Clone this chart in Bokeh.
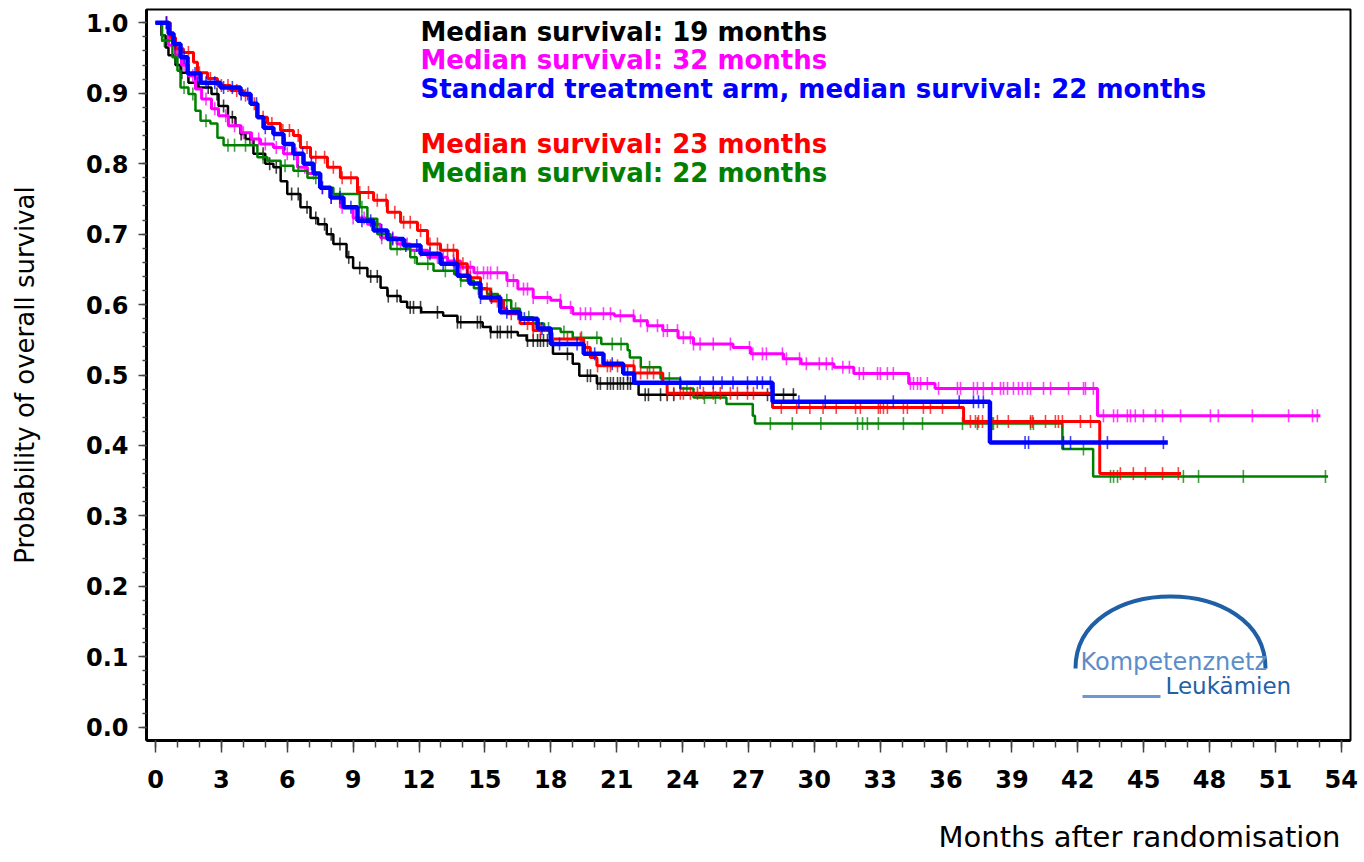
import numpy as np
from bokeh.plotting import figure
from bokeh.models import Range1d, FixedTicker, Title, PrintfTickFormatter
from bokeh.core.properties import value
from bokeh.embed import file_html
from bokeh.resources import INLINE

# ---------------- data ----------------
black_t = [0, 0.27, 0.46, 0.59, 0.91, 1.14, 1.5, 1.96, 2.55, 2.87, 3.3, 3.64, 3.87, 4.1, 4.46,
           5.0, 5.37, 5.7, 6.0, 6.6, 7.06, 7.4, 7.8, 8.1, 8.7, 9.0, 9.65, 10.25, 10.56, 11.16,
           11.46, 12.1, 13.1, 13.75, 14.9, 15.26, 16.5, 16.9, 18.1, 19.0, 19.3, 20.1, 22.0]
black_s = [1.0, 0.982, 0.965, 0.954, 0.94, 0.929, 0.915, 0.908, 0.899, 0.882, 0.866, 0.854, 0.842,
           0.835, 0.814, 0.80, 0.795, 0.775, 0.757, 0.738, 0.723, 0.714, 0.700, 0.686, 0.667, 0.652,
           0.640, 0.624, 0.612, 0.604, 0.596, 0.589, 0.584, 0.575, 0.568, 0.561, 0.556, 0.549, 0.530,
           0.516, 0.499, 0.488, 0.472]
black_end = 29.2
black_cens = [0.3, 1.2, 1.9, 2.4, 2.8, 3.1, 3.5, 3.9, 4.3, 4.9, 5.2, 5.5, 6.2, 6.5, 6.9, 7.3, 7.7,
              8.0, 8.4, 8.8, 9.3, 9.8, 10.1, 10.6, 11.0, 11.6, 11.75, 12.07, 12.84, 13.75, 13.9,
              14.66, 14.8, 15.26, 15.57, 15.7, 16.03, 16.2, 16.94, 17.2, 17.4, 17.53, 17.67, 17.85,
              18.76, 19.67, 19.81, 20.13, 20.26, 20.58, 20.72, 20.85, 21.04, 21.17, 21.31, 21.5,
              21.63, 22.3, 22.45, 23.0, 23.3, 23.6, 27.87, 28.14, 28.6, 29.05]

magenta_t = [0, 0.59, 0.9, 1.18, 1.5, 1.82, 2.1, 2.55, 2.87, 3.32, 3.9, 4.37, 4.78, 5.37, 5.83,
             6.47, 6.92, 7.5, 7.97, 8.42, 9.0, 9.65, 10.25, 11.0, 11.6, 12.4, 13.3, 13.9, 14.5,
             16.0, 16.5, 17.2, 18.0, 18.45, 19.0, 20.9, 21.8, 22.4, 23.1, 23.8, 24.5, 26.3, 27.1,
             28.6, 29.4, 30.9, 31.8, 34.3, 35.5, 42.9]
magenta_s = [1.0, 0.968, 0.954, 0.94, 0.925, 0.906, 0.892, 0.878, 0.868, 0.854, 0.844, 0.835, 0.828,
             0.823, 0.814, 0.795, 0.786, 0.766, 0.752, 0.738, 0.723, 0.714, 0.695, 0.686, 0.677,
             0.667, 0.662, 0.653, 0.645, 0.634, 0.622, 0.610, 0.606, 0.596, 0.587, 0.584, 0.577,
             0.570, 0.563, 0.553, 0.544, 0.539, 0.530, 0.523, 0.516, 0.511, 0.502, 0.488, 0.481,
             0.442]
magenta_end = 53.05
magenta_cens = [0.5, 1.3, 1.7, 2.3, 2.7, 3.2, 3.6, 4.0, 4.4, 4.7, 5.0, 5.5, 6.0, 6.4, 6.8, 7.2, 7.6,
                8.0, 8.5, 9.0, 9.5, 9.9, 10.3, 10.8, 11.16, 11.46, 12.07, 12.84, 13.1, 13.57, 13.9,
                14.34, 14.66, 14.94, 15.12, 15.26, 15.57, 16.03, 16.3, 16.76, 16.94, 17.2, 17.85,
                18.44, 18.9, 19.35, 19.58, 19.81, 20.4, 20.72, 21.17, 21.77, 22.09, 22.4, 22.86,
                23.13, 23.31, 23.77, 24.04, 24.36, 24.5, 24.8, 25.4, 26.18, 27.05, 27.2, 27.64,
                27.82, 28.55, 28.73, 29.33, 29.64, 30.23, 30.55, 30.82, 31.3, 31.6, 32.05, 32.24,
                32.88, 33.01, 33.33, 33.6, 34.38, 34.52, 34.7, 34.84, 35.15, 35.66, 36.52, 36.66,
                37.25, 37.43, 37.7, 38.1, 38.48, 38.62, 38.8, 39.07, 39.3, 39.48, 39.71, 39.85,
                40.44, 40.76, 41.58, 42.26, 42.35, 42.71, 43.17, 43.63, 43.81, 44.26, 44.4, 44.62,
                44.99, 45.54, 45.86, 46.68, 48.04, 48.4, 49.95, 51.6, 52.69, 52.91]

blue_t = [0, 0.6, 0.82, 1.14, 1.46, 2.05, 2.96, 3.87, 4.33, 4.64, 4.92, 5.37, 5.83, 6.28, 6.74,
          7.2, 7.5, 7.97, 8.56, 9.2, 9.93, 10.56, 11.3, 12.07, 12.98, 13.75, 14.3, 14.8, 15.7,
          16.6, 17.4, 18.0, 19.5, 20.4, 21.3, 21.8, 28.1, 38.0]
blue_s = [1.0, 0.985, 0.970, 0.951, 0.928, 0.915, 0.908, 0.899, 0.885, 0.866, 0.851, 0.842, 0.828,
          0.814, 0.800, 0.786, 0.766, 0.752, 0.738, 0.719, 0.705, 0.693, 0.684, 0.672, 0.658,
          0.641, 0.630, 0.610, 0.589, 0.580, 0.566, 0.544, 0.530, 0.516, 0.502, 0.489, 0.462,
          0.404]
blue_end = 46.1
blue_cens = [0.5, 0.9, 1.3, 1.8, 2.3, 2.7, 3.1, 3.5, 3.9, 4.2, 4.6, 5.0, 5.4, 5.9, 6.3, 6.7, 7.1,
             7.6, 8.0, 8.4, 8.9, 9.4, 9.8, 10.3, 10.8, 11.4, 11.9, 12.5, 13.1, 13.6, 14.2, 14.8,
             15.3, 16.0, 16.8, 17.6, 18.4, 19.2, 20.0, 20.8, 21.5, 23.9, 24.8, 25.4, 25.8, 26.3,
             26.96, 27.4, 27.64, 28.0, 29.3, 30.5, 33.6, 36.6, 37.25, 37.48, 37.7, 39.6, 39.76,
             41.35, 41.67, 43.35, 45.9]

red_t = [0, 0.68, 0.91, 1.27, 1.73, 1.91, 2.37, 2.82, 3.42, 4.0, 4.33, 4.64, 5.1, 5.69, 6.28,
         6.6, 7.06, 7.83, 8.42, 9.2, 9.93, 10.56, 11.16, 11.93, 12.39, 12.98, 13.75, 14.2, 14.8,
         15.26, 15.85, 16.0, 16.6, 17.2, 18.0, 19.5, 19.8, 20.1, 21.8, 23.1, 23.3, 28.1, 36.8, 43.0]
red_s = [1.0, 0.979, 0.963, 0.958, 0.944, 0.929, 0.921, 0.911, 0.904, 0.897, 0.885, 0.866, 0.857,
         0.847, 0.840, 0.823, 0.809, 0.795, 0.780, 0.759, 0.748, 0.731, 0.717, 0.705, 0.686,
         0.677, 0.658, 0.638, 0.622, 0.605, 0.594, 0.587, 0.573, 0.563, 0.551, 0.539, 0.525,
         0.513, 0.503, 0.489, 0.474, 0.454, 0.434, 0.360]
red_end = 46.7
red_cens = [0.5, 1.0, 1.5, 2.0, 2.5, 3.0, 3.3, 3.7, 4.1, 4.5, 4.9, 5.3, 5.8, 6.1, 6.5, 6.9, 7.3,
            7.7, 8.1, 8.5, 8.9, 9.3, 9.7, 10.1, 10.5, 10.9, 11.3, 11.6, 12.07, 12.5, 12.84, 13.3,
            13.57, 14.0, 14.34, 15.1, 15.57, 15.7, 16.2, 16.5, 16.94, 17.2, 17.53, 18.1, 18.76,
            19.35, 19.67, 20.13, 20.58, 20.72, 21.04, 21.77, 22.09, 22.4, 22.68, 23.31, 23.6,
            23.9, 24.04, 24.36, 24.68, 24.95, 25.4, 25.72, 26.18, 26.5, 26.96, 27.23, 28.5, 29.2,
            29.8, 30.4, 31.0, 31.88, 32.1, 32.92, 33.01, 33.15, 33.33, 34.06, 34.24, 34.97, 35.29,
            35.84, 37.11, 37.34, 37.48, 37.66, 38.34, 38.84, 39.85, 39.94, 40.53, 40.98, 41.12,
            41.3, 42.12, 42.58, 43.94, 44.53, 45.08, 45.86, 46.58]

green_t = [0, 0.3, 0.77, 1.0, 1.14, 1.5, 1.82, 2.05, 2.5, 2.82, 3.1, 4.64, 5.1, 5.7, 6.28, 6.92,
           7.5, 8.1, 9.3, 9.65, 10.1, 10.7, 11.6, 11.9, 12.66, 13.6, 13.9, 14.5, 15.1, 15.6, 16.2,
           16.6, 17.2, 17.7, 18.45, 19.0, 20.3, 21.5, 21.6, 22.1, 23.0, 23.9, 24.5, 26.0, 27.2,
           27.3, 41.3, 42.7]
green_s = [1.0, 0.975, 0.951, 0.932, 0.908, 0.899, 0.875, 0.861, 0.857, 0.837, 0.826, 0.809,
           0.804, 0.797, 0.790, 0.780, 0.766, 0.757, 0.738, 0.722, 0.700, 0.679, 0.667, 0.658,
           0.648, 0.643, 0.634, 0.623, 0.615, 0.606, 0.594, 0.582, 0.573, 0.566, 0.561, 0.553,
           0.544, 0.535, 0.525, 0.511, 0.495, 0.481, 0.468, 0.459, 0.442, 0.431, 0.395, 0.356]
green_end = 53.4
green_cens = [0.4, 0.9, 1.3, 1.7, 2.3, 3.3, 3.6, 4.1, 4.9, 5.9, 6.5, 7.3, 8.4, 9.4, 10.3, 11.0,
              11.8, 12.4, 13.2, 13.9, 14.7, 15.3, 16.0, 16.4, 17.0, 17.9, 18.6, 19.4, 20.1, 20.8,
              21.2, 22.5, 23.4, 24.2, 25.0, 25.5, 28.0, 29.0, 30.3, 31.97, 32.2, 32.42, 32.92,
              34.06, 34.93, 36.75, 37.43, 38.11, 38.16, 39.85, 39.98, 42.26, 43.49, 43.63, 43.81,
              46.81, 47.5, 49.54, 53.28]

legend_texts = ["Median survival: 19 months",
                "Median survival: 32 months",
                "Standard treatment arm, median survival: 22 months",
                "Median survival: 23 months",
                "Median survival: 22 months"]
legend_colors = ["#000000", "#ff00ff", "#0000ff", "#ff0000", "#008000"]

x_ticks = list(range(0, 55, 3))
x_minor = list(range(0, 55, 1))
y_ticks = [round(0.1 * i, 1) for i in range(11)]
y_minor = [round(0.02 * i, 2) for i in range(51)]

# ---------------- figure ----------------
p = figure(width=1364, height=862, output_backend="svg", toolbar_location=None,
           x_range=Range1d(-0.41, 54.42), y_range=Range1d(-0.0189, 1.0189),
           min_border_left=146, min_border_right=14, min_border_top=9, min_border_bottom=122)
p.background_fill_color = "white"
p.border_fill_color = "white"
p.outline_line_color = "black"
p.outline_line_width = 2
p.xgrid.visible = False
p.ygrid.visible = False

# pixel -> data helpers for decorations (frame: left 146, right 1350, top 9, bottom 740)
def px2x(px):
    return -0.41 + (px - 146) * (54.42 + 0.41) / 1204.0

def py2y(py):
    return 1.0189 - (py - 9) * (1.0189 + 0.0189) / 731.0


def km_curve(t, s, end, cens, color, lw):
    xs = list(t) + [end]
    ys = list(s) + [s[-1]]
    p.step(xs, ys, mode="after", line_color=color, line_width=lw)
    ta = np.asarray(t)
    sa = np.asarray(s)
    idx = np.searchsorted(ta, np.asarray(cens), side="right") - 1
    p.scatter(cens, sa[idx], marker="dash", angle=np.pi / 2, size=13,
              line_color=color, line_width=1.6, line_alpha=0.75)


km_curve(black_t, black_s, black_end, black_cens, "#000000", 2.5)
km_curve(magenta_t, magenta_s, magenta_end, magenta_cens, "#ff00ff", 3)
km_curve(green_t, green_s, green_end, green_cens, "#008000", 2.5)
km_curve(red_t, red_s, red_end, red_cens, "#ff0000", 3)
km_curve(blue_t, blue_s, blue_end, blue_cens, "#0000ff", 4.5)

# legend texts
baselines_px = [31, 59.5, 88, 143, 172]
p.text(x=[px2x(420)] * 5, y=[py2y(b) for b in baselines_px], text=legend_texts,
       text_color=legend_colors, text_font=value("DejaVu Sans"), text_font_style="bold",
       text_font_size="26px", text_baseline="alphabetic", text_align="left")

# logo
p.bezier(x0=[px2x(1075)], y0=[py2y(668)], x1=[px2x(1265)], y1=[py2y(668)],
         cx0=[px2x(1075)], cy0=[py2y(572)], cx1=[px2x(1265)], cy1=[py2y(572)],
         line_color="#1f5fa6", line_width=4)
p.text(x=[px2x(1080)], y=[py2y(661)], text=["Kompetenznetz"], text_color="#5b8ec9",
       text_font=value("DejaVu Sans"), text_font_size="24px", text_baseline="alphabetic")
p.text(x=[px2x(1165)], y=[py2y(685)], text=["Leukämien"], text_color="#2460a8",
       text_font=value("DejaVu Sans"), text_font_size="23px", text_baseline="alphabetic")
p.segment(x0=[px2x(1082)], y0=[py2y(696)], x1=[px2x(1160)], y1=[py2y(696)],
          line_color="#6a9ad0", line_width=3)

# axes
xa = p.xaxis[0]
xa.ticker = FixedTicker(ticks=x_ticks, minor_ticks=x_minor)
xa.axis_line_width = 3
xa.axis_line_color = "black"
xa.major_tick_out = 12
xa.major_tick_in = 0
xa.minor_tick_out = 7
xa.minor_tick_in = 0
xa.major_tick_line_color = "#444444"
xa.minor_tick_line_color = "#444444"
xa.major_tick_line_width = 1.5
xa.minor_tick_line_width = 1.5
xa.major_label_text_font = "DejaVu Sans"
xa.major_label_text_font_style = "bold"
xa.major_label_text_font_size = "24px"
xa.major_label_text_color = "black"
xa.major_label_standoff = 17

ya = p.yaxis[0]
ya.ticker = FixedTicker(ticks=y_ticks, minor_ticks=y_minor)
ya.formatter = PrintfTickFormatter(format="%.1f")
ya.axis_line_width = 3
ya.axis_line_color = "black"
ya.major_tick_out = 8
ya.major_tick_in = 0
ya.minor_tick_out = 4
ya.minor_tick_in = 0
ya.major_tick_line_color = "#444444"
ya.minor_tick_line_color = "#444444"
ya.major_tick_line_width = 1.5
ya.minor_tick_line_width = 1.5
ya.major_label_text_font = "DejaVu Sans"
ya.major_label_text_font_style = "bold"
ya.major_label_text_font_size = "24px"
ya.major_label_text_color = "black"
ya.major_label_standoff = 10
ya.axis_label = "Probability of overall survival"
ya.axis_label_text_font = "DejaVu Sans"
ya.axis_label_text_font_style = "normal"
ya.axis_label_text_font_size = "26px"
ya.axis_label_text_color = "black"
ya.axis_label_standoff = 43

# spacer between tick labels and the x-axis title, then the right-aligned title
spacer = Title(text=" ", text_font_size="1px", standoff=24)
p.add_layout(spacer, "below")
xt = Title(text="Months after randomisation", align="right", text_font="DejaVu Sans",
           text_font_style="normal", text_font_size="29px", text_color="black",
           offset=10, standoff=0)
p.add_layout(xt, "below")

open("out.html", "w").write(file_html(p, INLINE))
